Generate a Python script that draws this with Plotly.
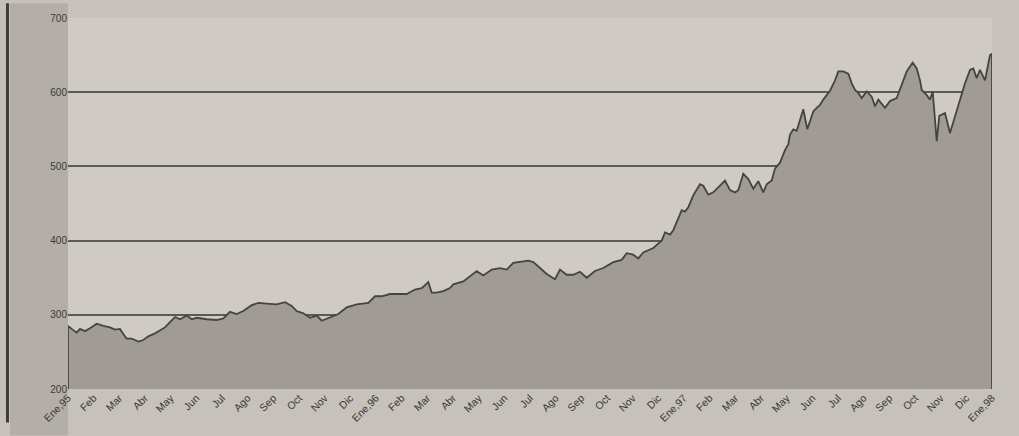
import plotly.graph_objects as go

# Month index (0 = Ene 95, 36 = Ene 98) and index values
months = [0.0, 0.144, 0.339, 0.468, 0.662, 0.857, 1.118, 1.375, 1.636, 1.831,
          2.026, 2.155, 2.287, 2.482, 2.739, 2.934, 3.129, 3.390, 3.584, 3.779,
          3.974, 4.169, 4.364, 4.625, 4.820, 5.014, 5.404, 5.794, 6.051, 6.312,
          6.573, 6.830, 7.157, 7.415, 7.742, 8.131, 8.455, 8.716, 8.911, 9.168,
          9.429, 9.690, 9.885, 10.208, 10.531, 10.859, 11.248, 11.700, 11.961, 12.222,
          12.545, 12.869, 13.196, 13.520, 13.781, 14.038, 14.170, 14.365, 14.622, 14.883,
          15.012, 15.401, 15.791, 15.923, 16.180, 16.508, 16.831, 17.092, 17.349, 17.677,
          17.934, 18.129, 18.390, 18.651, 18.974, 19.169, 19.430, 19.687, 19.948, 20.209,
          20.532, 20.856, 21.245, 21.572, 21.767, 22.024, 22.219, 22.414, 22.804, 23.131,
          23.260, 23.454, 23.583, 23.778, 23.910, 24.039, 24.167, 24.362, 24.623, 24.752,
          24.947, 25.141, 25.402, 25.597, 25.792, 25.987, 26.115, 26.310, 26.505, 26.700,
          26.894, 27.089, 27.222, 27.417, 27.545, 27.740, 27.935, 28.064, 28.130, 28.258,
          28.391, 28.519, 28.648, 28.804, 29.038, 29.170, 29.299, 29.428, 29.689, 29.884,
          30.012, 30.207, 30.402, 30.535, 30.663, 30.792, 30.924, 31.119, 31.313, 31.442,
          31.571, 31.832, 32.026, 32.287, 32.482, 32.677, 32.911, 33.067, 33.195, 33.262,
          33.457, 33.585, 33.690, 33.780, 33.846, 33.947, 34.169, 34.364, 34.559, 34.754,
          34.948, 35.143, 35.272, 35.404, 35.533, 35.727, 35.817, 35.922, 36.0]

values = [285, 281, 276, 281, 278, 282, 288, 285, 283, 280,
          281, 274, 268, 268, 264, 266, 271, 275, 279, 283,
          290, 297, 294, 299, 294, 296, 294, 293, 295, 304,
          301, 305, 313, 316, 315, 314, 317, 312, 305, 302,
          296, 299, 292, 296, 301, 310, 314, 316, 325, 325,
          328, 328, 328, 334, 336, 344, 330, 330, 332, 336,
          341, 345, 356, 359, 353, 361, 363, 361, 370, 372,
          373, 371, 363, 355, 348, 361, 354, 354, 358, 350,
          359, 363, 371, 374, 383, 381, 376, 384, 390, 400,
          411, 408, 414, 430, 441, 439, 445, 461, 476, 474,
          462, 465, 474, 481, 468, 465, 468, 490, 483, 470,
          480, 465, 476, 481, 497, 505, 522, 530, 543, 550,
          548, 561, 577, 550, 574, 579, 583, 590, 602, 616,
          628, 628, 625, 612, 603, 599, 592, 601, 594, 581,
          590, 579, 588, 592, 610, 628, 640, 632, 616, 603,
          596, 590, 601, 568, 534, 568, 572, 545, 568, 592,
          612, 630, 632, 619, 630, 616, 634, 650, 652]

month_labels = ["Ene,95", "Feb", "Mar", "Abr", "May", "Jun", "Jul", "Ago", "Sep", "Oct", "Nov", "Dic",
                "Ene,96", "Feb", "Mar", "Abr", "May", "Jun", "Jul", "Ago", "Sep", "Oct", "Nov", "Dic",
                "Ene,97", "Feb", "Mar", "Abr", "May", "Jun", "Jul", "Ago", "Sep", "Oct", "Nov", "Dic",
                "Ene,98"]
y_ticks = [200, 300, 400, 500, 600, 700]

y_min, y_max = y_ticks[0], y_ticks[-1]
x_end = len(month_labels) - 1

# close the area down to the axis floor at both ends
xs = [months[0]] + months + [months[-1]]
ys = [y_min] + values + [y_min]

PAPER = "#c6c2bb"

fig = go.Figure()
fig.add_trace(go.Scatter(
    x=xs, y=ys, mode="lines",
    line=dict(color="#46443f", width=1.8),
    fill="tozeroy", fillcolor="#a09c95",
    hoverinfo="skip", showlegend=False,
))

fig.update_layout(
    width=1019, height=436,
    margin=dict(l=68, r=27, t=14, b=47),
    paper_bgcolor=PAPER,
    plot_bgcolor="#cfcbc4",
    font=dict(family="Liberation Sans, Arial, sans-serif", color="#3a3935"),
    xaxis=dict(
        range=[0, x_end], tickmode="array",
        tickvals=list(range(len(month_labels))), ticktext=month_labels,
        tickangle=-45, tickfont=dict(size=10.5, color="#3a3935"),
        showgrid=False, zeroline=False, showline=False, ticks="",
    ),
    yaxis=dict(
        range=[y_min, y_max], tickmode="array", tickvals=y_ticks,
        tickfont=dict(size=10, color="#3a3935"),
        showgrid=True, gridcolor="#5c5a55", gridwidth=1.5,
        zeroline=False, showline=False, ticks="",
    ),
    shapes=[
        # darker left strip of the scanned page
        dict(type="rect", xref="paper", yref="paper", x0=-0.0628, x1=0, y0=-0.125, y1=1.04,
             fillcolor="#b3afa8", line=dict(width=0), layer="below"),
        # page border line at the left
        dict(type="line", xref="paper", yref="paper", x0=-0.0655, x1=-0.0655, y0=-0.09, y1=1.04,
             line=dict(color="#3f3d39", width=3)),
    ],
)

fig.write_html(
    "out.html",
    config={"displayModeBar": False},
    post_script="document.body.style.margin='0';document.body.style.background='" + PAPER + "';",
)
